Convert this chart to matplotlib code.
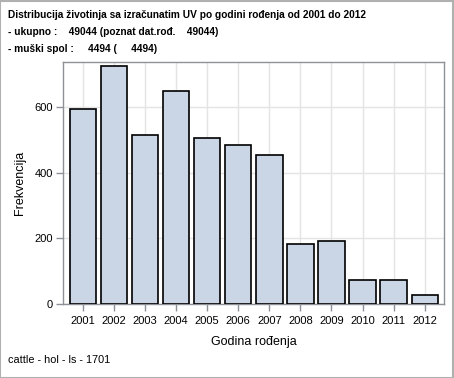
"""Bar chart: distribution of animals by birth year."""

import matplotlib.pyplot as plt
from matplotlib.patches import Rectangle
import numpy as np

plt.rcParams["font.family"] = ["Liberation Sans", "DejaVu Sans"]

years = ["2001", "2002", "2003", "2004", "2005", "2006",
         "2007", "2008", "2009", "2010", "2011", "2012"]
counts = [593, 724, 515, 649, 505, 483, 453, 183, 192, 74, 74, 28]

title_lines = [
    "Distribucija životinja sa izračunatim UV po godini rođenja od 2001 do 2012",
    "- ukupno :    49044 (poznat dat.rođ.    49044)",
    "- muški spol :     4494 (     4494)",
]
footnote = "cattle - hol - ls - 1701"

fig = plt.figure(figsize=(4.54, 3.78), dpi=100)
ax = fig.add_axes([63.3 / 454, 1 - 304 / 378, (444 - 63.3) / 454, (304 - 61.7) / 378])

x = np.arange(len(years))
ax.bar(x, counts, width=0.85, color="#CAD5E5", edgecolor="black", linewidth=1.2, zorder=3)

ax.set_xlim(-0.63, len(years) - 1 + 0.62)
ax.set_ylim(0, 738)
ax.set_xticks(x)
ax.set_xticklabels(years)
ax.set_yticks([0, 200, 400, 600])

ax.grid(True, color="#E4E4E4", linewidth=1, zorder=0)
for side in ["left", "right", "top", "bottom"]:
    ax.spines[side].set_color("#8E9296")
    ax.spines[side].set_linewidth(1)
ax.tick_params(axis="both", colors="#8E9296", length=5, width=1, labelsize=8, labelcolor="black")
ax.tick_params(axis="y", pad=2.5)

ax.set_xlabel("Godina rođenja", fontsize=9, labelpad=7)
ax.set_ylabel("Frekvencija", fontsize=9, labelpad=6)

for i, line in enumerate(title_lines):
    fig.text(8 / 454, 1 - (15 + 17 * i) / 378, line, fontsize=7.3, fontweight="bold",
             va="center", ha="left")
fig.text(8 / 454, 1 - 360 / 378, footnote, fontsize=7.8, va="center", ha="left")

fig.patches.append(Rectangle((0.001, 0.001), 0.997, 0.997, transform=fig.transFigure,
                             fill=False, edgecolor="#B0B0B0", linewidth=1.5))

fig.savefig("out.png", dpi=100)
